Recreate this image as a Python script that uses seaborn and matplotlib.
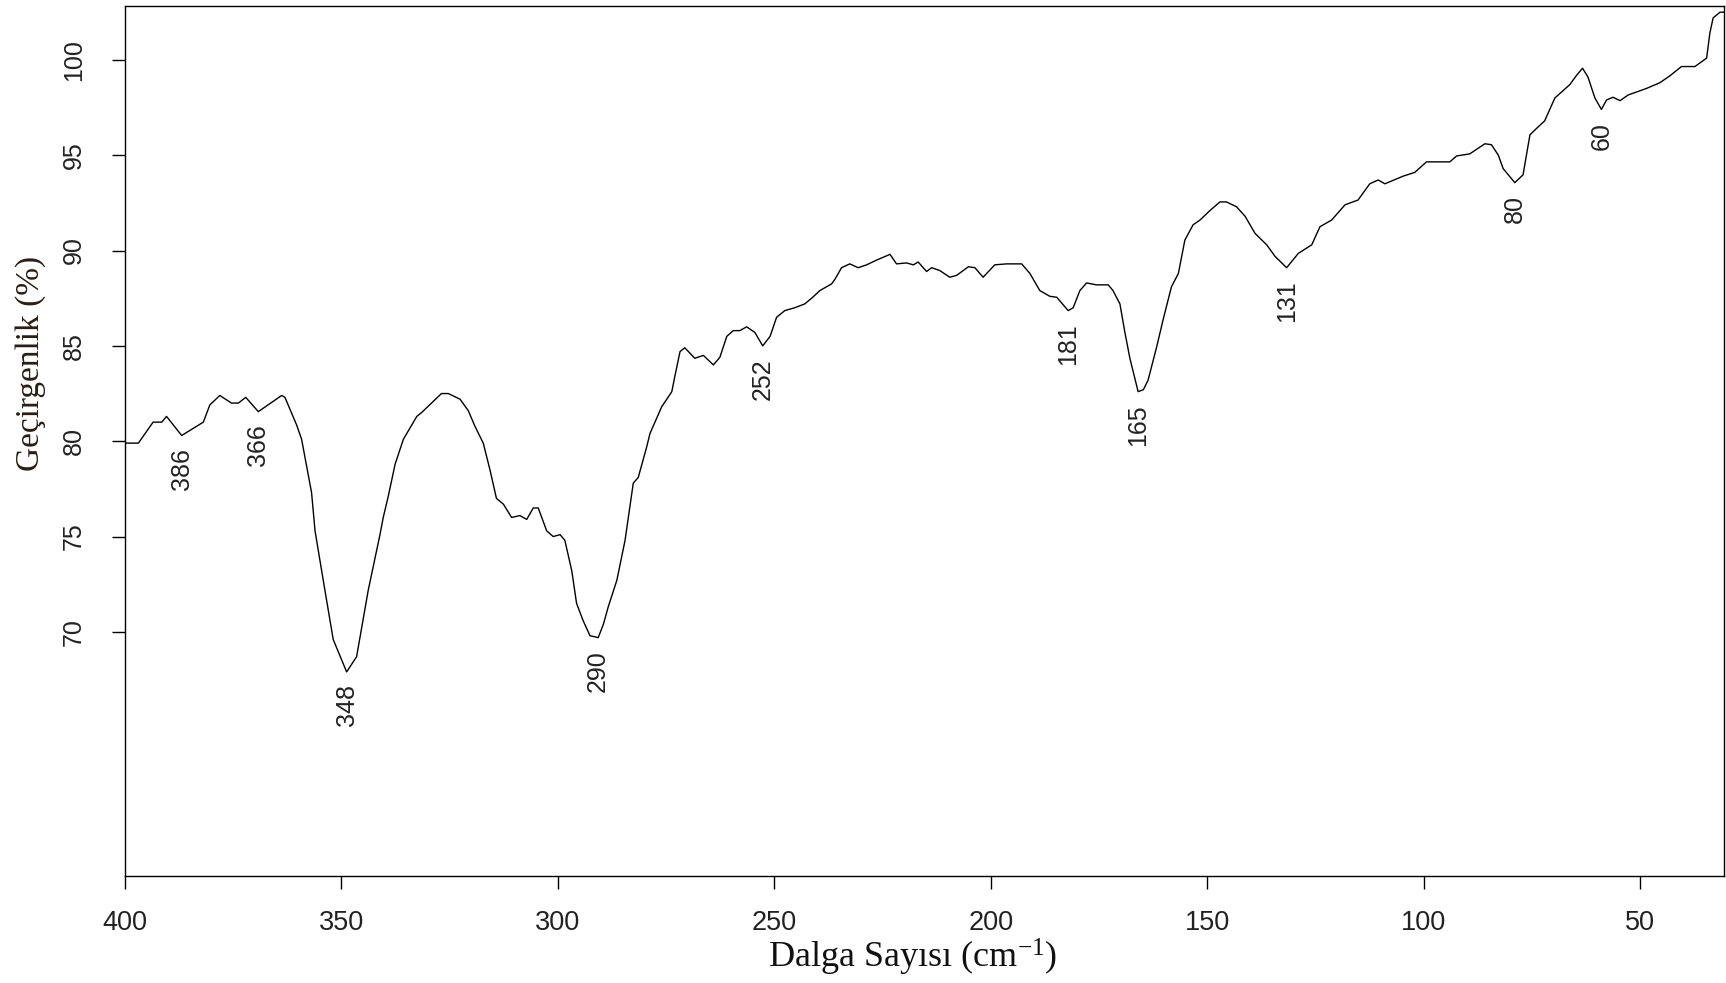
import numpy as np
import pandas as pd
import seaborn as sns
import matplotlib.pyplot as plt

# Far-IR spectrum
wavenumber = [400, 396.9, 393.5, 391.5, 390.4, 386.9, 381.9, 380.4, 378.1, 375.4,
              373.8, 372.1, 369.2, 363.8, 363.05, 360.35, 359.2, 356.9, 356.1, 354.2,
              351.9, 348.8, 346.5, 343.8, 341.1, 340.35, 339.2, 337.6, 335.7, 332.6,
              331.5, 329.2, 326.9, 325.3, 322.6, 320.7, 319.2, 317.25, 315.7, 314.2,
              312.6, 310.7, 308.8, 307.2, 305.7, 304.55, 302.6, 301.1, 299.5, 298.4,
              296.8, 295.7, 294.2, 292.6, 290.7, 289.5, 288.4, 286.4, 284.5, 282.6,
              281.45, 279.5, 278.75, 276.05, 273.7, 273.0, 271.8, 270.7, 268.4, 266.4,
              264.1, 262.6, 261.0, 259.5, 258.0, 256.4, 254.5, 252.7, 251.0, 249.5,
              247.6, 245.3, 243.0, 241.4, 239.5, 236.8, 236.0, 234.5, 232.6, 230.65,
              228.7, 226.4, 223.3, 221.8, 219.5, 217.9, 216.8, 214.85, 213.7, 211.8,
              209.5, 207.9, 205.2, 203.7, 201.8, 199.1, 196.4, 192.9, 191.0, 188.7,
              186.4, 184.8, 183.3, 182.15, 181.0, 179.45, 177.9, 175.6, 172.9, 171.8,
              170.2, 169.05, 167.9, 166.0, 164.8, 163.7, 161.7, 160.2, 158.3, 156.7,
              155.2, 153.3, 151.7, 149.4, 147.1, 145.6, 143.3, 141.3, 139.0, 136.3,
              134.4, 131.7, 129.0, 125.9, 124.0, 121.3, 118.2, 115.2, 112.5, 110.55,
              109.0, 104.8, 102.1, 99.4, 94.0, 92.45, 89.4, 85.9, 84.4, 82.8,
              81.7, 79.0, 77.1, 75.5, 74.0, 72.1, 69.75, 66.3, 64.7, 63.35,
              62.1, 60.5, 59.0, 57.8, 56.3, 54.7, 52.8, 48.6, 45.5, 43.2,
              40.5, 37.4, 34.7, 33.95, 33.2, 31.6, 30.5]
transmittance = [79.9, 79.9, 81.0, 81.0, 81.3, 80.3, 81.0, 81.9, 82.4, 82.0,
                 82.0, 82.3, 81.55, 82.4, 82.3, 80.85, 80.1, 77.3, 75.3, 72.7,
                 69.6, 67.9, 68.7, 72.2, 75.1, 76.0, 77.1, 78.8, 80.1, 81.3,
                 81.5, 82.0, 82.5, 82.5, 82.2, 81.6, 80.8, 79.9, 78.5, 77.0,
                 76.7, 76.0, 76.1, 75.9, 76.5, 76.5, 75.3, 75.0, 75.1, 74.8,
                 73.2, 71.5, 70.6, 69.8, 69.7, 70.4, 71.3, 72.7, 74.8, 77.8,
                 78.1, 79.7, 80.4, 81.8, 82.6, 83.4, 84.7, 84.9, 84.35, 84.5,
                 84.0, 84.4, 85.5, 85.8, 85.8, 86.0, 85.7, 85.0, 85.5, 86.5,
                 86.85, 87.0, 87.2, 87.5, 87.9, 88.25, 88.5, 89.1, 89.3, 89.1,
                 89.25, 89.5, 89.8, 89.3, 89.35, 89.25, 89.4, 88.9, 89.1, 88.95,
                 88.6, 88.7, 89.15, 89.1, 88.6, 89.25, 89.3, 89.3, 88.8, 87.9,
                 87.6, 87.55, 87.15, 86.85, 87.0, 87.9, 88.3, 88.2, 88.2, 87.9,
                 87.2, 85.7, 84.35, 82.6, 82.7, 83.2, 84.96, 86.4, 88.1, 88.8,
                 90.55, 91.35, 91.6, 92.1, 92.55, 92.55, 92.3, 91.8, 90.9, 90.3,
                 89.7, 89.1, 89.85, 90.3, 91.25, 91.6, 92.4, 92.65, 93.5, 93.7,
                 93.5, 93.9, 94.1, 94.65, 94.65, 94.96, 95.07, 95.6, 95.55, 95.0,
                 94.3, 93.56, 93.97, 96.07, 96.4, 96.8, 98.0, 98.7, 99.2, 99.56,
                 99.1, 98.0, 97.4, 97.9, 98.04, 97.86, 98.16, 98.5, 98.8, 99.16,
                 99.65, 99.65, 100.09, 101.4, 102.2, 102.5, 102.5]

peak_labels = [386, 366, 348, 290, 252, 181, 165, 131, 80, 60]
x_ticks = [400, 350, 300, 250, 200, 150, 100, 50]
y_ticks = [70, 75, 80, 85, 90, 95, 100]

sns.set_style('ticks')
plt.rcParams['font.family'] = ['Liberation Sans', 'DejaVu Sans']
plt.rcParams['mathtext.fontset'] = 'custom'
plt.rcParams['mathtext.rm'] = 'Liberation Serif'
plt.rcParams['mathtext.it'] = 'Liberation Serif:italic'

df = pd.DataFrame({'wavenumber': wavenumber, 'transmittance': transmittance})

fig = plt.figure(figsize=(17.26, 9.83), dpi=100)
ax = fig.add_axes([0.0724, 0.1089, 0.9264, 0.8851])
sns.lineplot(data=df, x='wavenumber', y='transmittance', ax=ax,
             color='black', linewidth=1.0, estimator=None)

ax.set_xlim(400, 30.7)
ax.set_ylim(57.2, 102.83)
ax.set_xticks(x_ticks)
ax.set_yticks(y_ticks)

for sp in ax.spines.values():
    sp.set_visible(True)
    sp.set_linewidth(1.0)
    sp.set_color('black')
ax.tick_params(direction='out', length=9.5, width=1.0, color='black', labelcolor='#222222')
ax.tick_params(axis='x', labelsize=19.5, pad=15)
ax.tick_params(axis='y', labelsize=18, pad=18.5)
plt.setp(ax.get_yticklabels(), rotation=90, va='center')

# peak labels under the local minima
wn = np.array(wavenumber)
tr = np.array(transmittance)
for p in peak_labels:
    near = np.where(np.abs(wn - p) <= 4)[0]
    i = near[np.argmin(tr[near])]
    ax.annotate(str(p), xy=(wn[i], tr[i]), xytext=(0, -9), textcoords='offset points',
                rotation=90, ha='center', va='top', fontsize=18, color='#222222')

ax.set_xlabel(r'Dalga Sayısı (cm$^{-1}$)', fontfamily='Liberation Serif',
              fontsize=26, color='#111111', va='center')
ax.xaxis.set_label_coords(0.529, 0.026, transform=fig.transFigure)
ax.set_ylabel('Geçirgenlik (%)', fontfamily='Liberation Serif',
              fontsize=24, color='#2a1d12', va='center')
ax.yaxis.set_label_coords(0.018, 0.63, transform=fig.transFigure)

fig.savefig('out.png', dpi=100)
